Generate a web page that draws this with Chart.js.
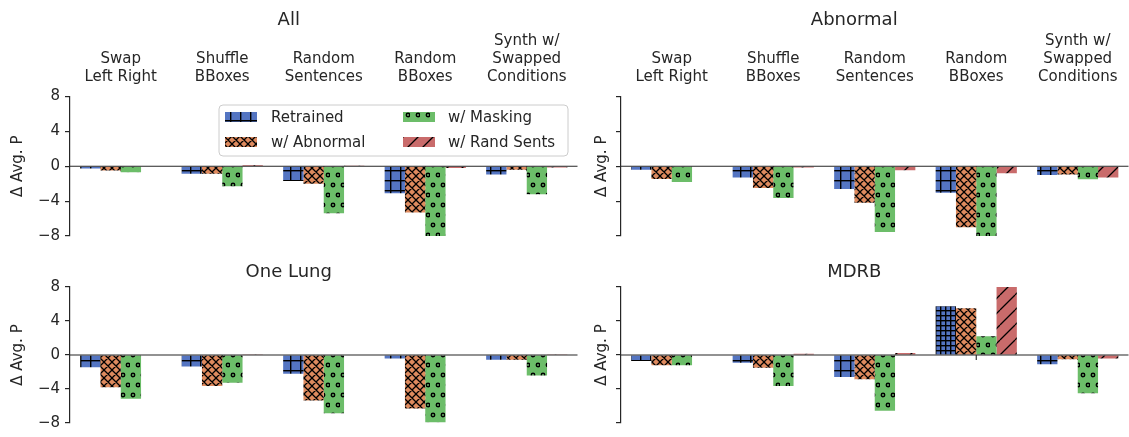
<!DOCTYPE html>
<html>
<head>
<meta charset="utf-8">
<script src="https://cdn.jsdelivr.net/npm/chart.js@4.4.1/dist/chart.umd.min.js"></script>
<style>
  html, body { margin: 0; padding: 0; background: #fff; }
  #wrap { position: relative; width: 1129px; height: 437px; overflow: hidden; }
  canvas { position: absolute; }
</style>
</head>
<body>
<div id="wrap">
  <canvas id="cAll" width="580" height="250" style="left:0;top:0"></canvas>
  <canvas id="cAbn" width="549" height="250" style="left:580px;top:0"></canvas>
  <canvas id="cOne" width="580" height="187" style="left:0;top:250px"></canvas>
  <canvas id="cMdrb" width="549" height="187" style="left:580px;top:250px"></canvas>
</div>
<script>
// categories (multi-line labels) and legend entries
const categories = [['Swap', 'Left Right'], ['Shuffle', 'BBoxes'], ['Random', 'Sentences'], ['Random', 'BBoxes'], ['Synth w/', 'Swapped', 'Conditions']];
const methods = ['Retrained', 'w/ Abnormal', 'w/ Masking', 'w/ Rand Sents'];
const yTicks = [-8, -4, 0, 4, 8];

// Δ Avg. P
const allRetrained = [-0.27, -0.85, -1.7, -3.1, -0.95];
const allAbnormal  = [-0.5, -0.85, -2.0, -5.3, -0.4];
const allMasking   = [-0.7, -2.3, -5.4, -8.0, -3.2];
const allRandSents = [0, 0.15, 0.1, -0.2, -0.15];

const abnRetrained = [-0.4, -1.3, -2.6, -3.05, -1.0];
const abnAbnormal  = [-1.45, -2.5, -4.2, -7.0, -0.95];
const abnMasking   = [-1.8, -3.65, -7.55, -8.0, -1.5];
const abnRandSents = [0, -0.15, -0.45, -0.8, -1.3];

const oneRetrained = [-1.45, -1.35, -2.2, -0.4, -0.55];
const oneAbnormal  = [-3.8, -3.65, -5.35, -6.3, -0.55];
const oneMasking   = [-5.15, -3.25, -6.85, -7.9, -2.4];
const oneRandSents = [0, 0.1, 0, 0, 0.1];

const mdrbRetrained = [-0.7, -0.9, -2.6, 5.75, -1.1];
const mdrbAbnormal  = [-1.2, -1.5, -2.85, 5.5, -0.5];
const mdrbMasking   = [-1.2, -3.65, -6.55, 2.2, -4.5];
const mdrbRandSents = [0, 0.15, 0.25, 8.0, -0.4];

const FONT = "'DejaVu Sans', sans-serif";
const INK = '#262626';
const colors = ['#5475c2', '#de8a5e', '#6cbd69', '#c96b6b'];

Chart.defaults.font.family = FONT;
Chart.defaults.color = INK;

// hatch patterns like matplotlib's '+', 'x', 'o', '/'
const scratch = document.createElement('canvas').getContext('2d');
function hatch(kind, color, step) {
  const c = document.createElement('canvas');
  const w = step, h = kind === 'dots' ? step * 2 : step;
  c.width = w; c.height = h;
  const g = c.getContext('2d');
  g.fillStyle = color;
  g.fillRect(0, 0, w, h);
  g.strokeStyle = '#000';
  g.fillStyle = '#000';
  g.lineWidth = 1.3;
  if (kind === 'grid') {
    g.fillRect(0, 0, w, 1.4);
    g.fillRect(0, 0, 1.4, h);
  } else if (kind === 'cross' || kind === 'slash') {
    g.beginPath();
    for (const k of [-step, 0, step]) {
      g.moveTo(k, step); g.lineTo(k + step, 0);
      if (kind === 'cross') { g.moveTo(k, 0); g.lineTo(k + step, step); }
    }
    g.stroke();
  } else if (kind === 'dots') {
    g.fillStyle = color;
    g.lineWidth = 1.5;
    for (const [cx, cy] of [[step * 0.3, step * 0.5], [step * 0.8, step * 1.5]]) {
      g.beginPath();
      g.arc(cx, cy, 1.7, 0, Math.PI * 2);
      g.fill();
      g.stroke();
    }
  }
  return scratch.createPattern(c, 'repeat');
}

const fills = [
  hatch('grid', colors[0], 10),
  hatch('cross', colors[1], 8),
  hatch('dots', colors[2], 10),
  hatch('slash', colors[3], 15)
];
const denseGrid = hatch('grid', colors[0], 5);

// bottom spine sits on y = 0, with ticks under the bars
const zeroAxis = {
  id: 'zeroAxis',
  beforeDatasetsDraw(chart) {
    const { ctx, scales: { x, y } } = chart;
    const y0 = y.getPixelForValue(0);
    ctx.save();
    ctx.strokeStyle = INK;
    ctx.lineWidth = 1.1;
    ctx.beginPath();
    categories.forEach((c, i) => {
      const px = x.getPixelForValue(i);
      ctx.moveTo(px, y0); ctx.lineTo(px, y0 + 5);
    });
    ctx.stroke();
    ctx.restore();
  },
  afterDatasetsDraw(chart) {
    const { ctx, chartArea: a, scales: { y } } = chart;
    const y0 = y.getPixelForValue(0);
    ctx.save();
    ctx.strokeStyle = INK;
    ctx.lineWidth = 1.2;
    ctx.beginPath();
    ctx.moveTo(a.left, y0); ctx.lineTo(a.right, y0);
    ctx.stroke();
    ctx.restore();
  }
};

// two-column legend in the "All" panel
const boxLegend = {
  id: 'boxLegend',
  afterDraw(chart, args, opts) {
    if (!opts.show) return;
    const { ctx, chartArea: a } = chart;
    const w = 349, h = 51;
    const x0 = a.right - 9.5 - w, y0 = a.top + 8.5;
    ctx.save();
    ctx.beginPath();
    ctx.roundRect(x0, y0, w, h, 4);
    ctx.fillStyle = 'rgba(255,255,255,0.8)';
    ctx.fill();
    ctx.strokeStyle = '#cccccc';
    ctx.lineWidth = 1;
    ctx.stroke();
    ctx.font = '15px ' + FONT;
    ctx.textBaseline = 'middle';
    const cols = [[6, 52], [184, 229]];
    const rows = [12, 37];
    methods.forEach((m, k) => {
      const col = cols[Math.floor(k / 2)], row = rows[k % 2];
      ctx.fillStyle = fills[k];
      ctx.fillRect(x0 + col[0], y0 + row - 5, 32, 10);
      ctx.fillStyle = INK;
      ctx.fillText(m, x0 + col[1], y0 + row + 1);
    });
    ctx.restore();
  }
};

function makeChart(id, title, sets, o) {
  const datasets = sets.map((vals, k) => ({
    label: methods[k],
    data: vals,
    backgroundColor: (o.fills && o.fills[k]) || fills[k],
    borderWidth: 0,
    categoryPercentage: 0.8,
    barPercentage: 1.0
  }));
  return new Chart(document.getElementById(id), {
    type: 'bar',
    data: { labels: categories, datasets },
    plugins: [zeroAxis, boxLegend],
    options: {
      responsive: false,
      animation: false,
      events: [],
      layout: { padding: { left: 0, right: o.padRight, top: 0, bottom: o.padBottom } },
      plugins: {
        legend: { display: false },
        tooltip: { enabled: false },
        boxLegend: { show: !!o.legend },
        title: {
          display: true, text: title, color: INK,
          font: { size: 18, weight: 'normal', family: FONT, lineHeight: 1.2 },
          padding: o.titlePad
        }
      },
      scales: {
        x: {
          type: 'category',
          position: 'top',
          offset: true,
          display: o.catLabels,
          grid: { display: false, drawTicks: false },
          border: { display: false },
          ticks: { font: { size: 15, lineHeight: 1.2 }, color: INK, padding: 10.5, maxRotation: 0, autoSkip: false },
          afterFit(s) { s.height = o.xHeight; }
        },
        y: {
          min: -8, max: 8,
          afterBuildTicks(s) { s.ticks = yTicks.map(v => ({ value: v })); },
          ticks: {
            font: { size: 15 }, color: INK, padding: 5,
            callback: v => o.yLabels ? String(v).replace('-', '\u2212') : ''
          },
          grid: { drawOnChartArea: false, drawTicks: true, tickLength: 5, color: INK, lineWidth: 1.2 },
          border: { display: true, color: INK, width: 1.2 },
          title: { display: true, text: 'Δ Avg. P', color: INK, font: { size: 15, lineHeight: 1.2 }, padding: { top: o.yTitlePad, bottom: 0 } },
          afterFit(s) { s.width = o.yWidth; }
        }
      }
    }
  });
}

makeChart('cAll', 'All', [allRetrained, allAbnormal, allMasking, allRandSents], {
  legend: true, catLabels: true, yLabels: true, yWidth: 70, yTitlePad: 9,
  xHeight: 65.7, titlePad: { top: 9.2, bottom: 0 }, padRight: 2.5, padBottom: 13.5
});
makeChart('cAbn', 'Abnormal', [abnRetrained, abnAbnormal, abnMasking, abnRandSents], {
  catLabels: true, yLabels: false, yWidth: 41, yTitlePad: 13,
  xHeight: 65.7, titlePad: { top: 9.2, bottom: 0 }, padRight: 0.5, padBottom: 13.5
});
makeChart('cOne', 'One Lung', [oneRetrained, oneAbnormal, oneMasking, oneRandSents], {
  catLabels: false, yLabels: true, yWidth: 70, yTitlePad: 9,
  xHeight: 0, titlePad: { top: 11.2, bottom: 4.2 }, padRight: 2.5, padBottom: 10
});
makeChart('cMdrb', 'MDRB', [mdrbRetrained, mdrbAbnormal, mdrbMasking, mdrbRandSents], {
  catLabels: false, yLabels: false, yWidth: 41, yTitlePad: 13,
  xHeight: 0, titlePad: { top: 11.2, bottom: 4.2 }, padRight: 0.5, padBottom: 10,
  fills: [mdrbRetrained.map((v, i) => i === 3 ? denseGrid : fills[0])]
});
</script>
</body>
</html>
